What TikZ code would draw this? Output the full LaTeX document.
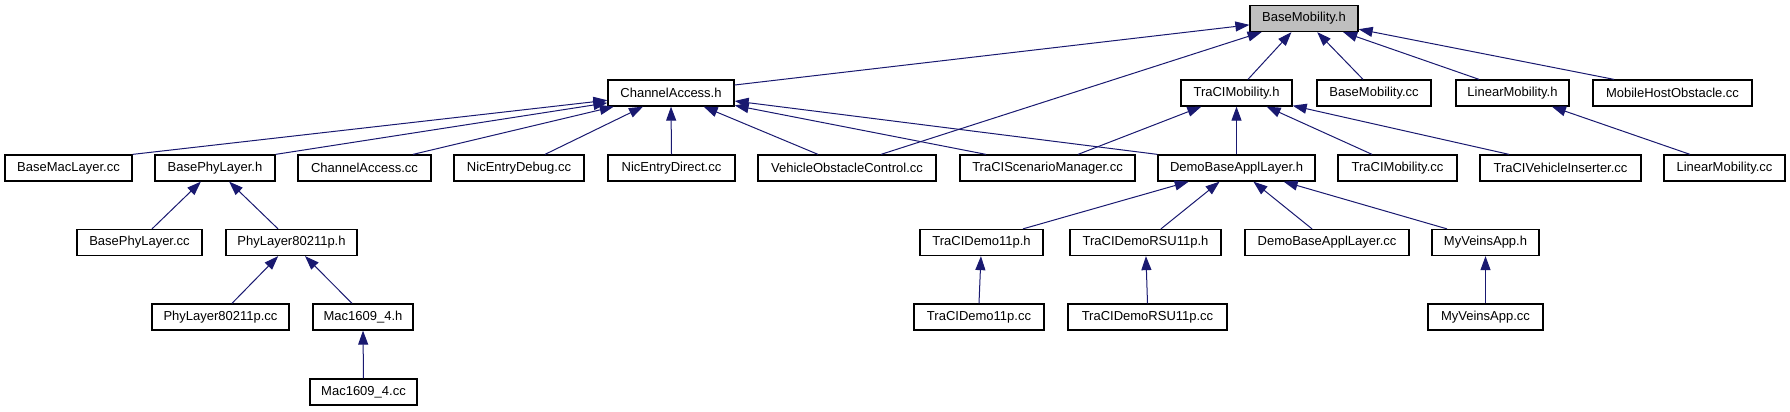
\documentclass[tikz,border=0pt]{standalone}
\usepackage{fontspec}
\setmainfont{Liberation Sans}
\usetikzlibrary{arrows.meta}
\definecolor{midnight}{HTML}{191970}

\begin{document}
\begin{tikzpicture}[x=0.75pt, y=-0.75pt, line width=0.75pt, font=\fontsize{9.75}{11}\selectfont, >={Triangle[length=10.5pt, width=7.5pt]}]

	% Stili per i file e per le inclusioni
	\tikzset{
		file/.style={
			draw=black,
			line width=0.95pt,
			fill=white,
			inner sep=0pt,
			minimum height=19.5pt,
			minimum width=#1*0.75pt
		},
		root/.style={
			file=#1,
			fill=black!25
		},
		incl/.style={
			draw=midnight,
			line width=0.75pt,
			->
		}
	}

	\useasboundingbox (0,0) rectangle (1790,411);

	% Livello 0: l'header di partenza
	\node[root=108] (bmh) at (1304,18.5) {BaseMobility.h};

	% Livello 1
	\node[file=126] (cah)   at (671,93)    {ChannelAccess.h};
	\node[file=111] (tmh)   at (1236.5,93) {TraCIMobility.h};
	\node[file=114] (bmcc)  at (1374,93)   {BaseMobility.cc};
	\node[file=113] (lmh)   at (1512.5,93) {LinearMobility.h};
	\node[file=159] (mhocc) at (1672.5,93) {MobileHostObstacle.cc};

	% Livello 2
	\node[file=127] (bmlcc) at (68.5,168)   {BaseMacLayer.cc};
	\node[file=120] (bplh)  at (215,168)    {BasePhyLayer.h};
	\node[file=133] (cacc)  at (364.5,168)  {ChannelAccess.cc};
	\node[file=130] (nedbg) at (519,168)    {NicEntryDebug.cc};
	\node[file=127] (nedir) at (671.5,168)  {NicEntryDirect.cc};
	\node[file=178] (vocc)  at (847,168)    {VehicleObstacleControl.cc};
	\node[file=175] (tsmcc) at (1047.5,168) {TraCIScenarioManager.cc};
	\node[file=157] (dbalh) at (1236.5,168) {DemoBaseApplLayer.h};
	\node[file=119] (tmcc)  at (1397.5,168) {TraCIMobility.cc};
	\node[file=161] (tvicc) at (1560.5,168) {TraCIVehicleInserter.cc};
	\node[file=121] (lmcc)  at (1724.5,168) {LinearMobility.cc};

	% Livello 3
	\node[file=125] (bplcc)  at (139.5,242.5)  {BasePhyLayer.cc};
	\node[file=131] (pl80h)  at (291.5,242.5)  {PhyLayer80211p.h};
	\node[file=123] (td11h)  at (981.5,242.5)  {TraCIDemo11p.h};
	\node[file=151] (tdrsuh) at (1145.5,242.5) {TraCIDemoRSU11p.h};
	\node[file=164] (dbalcc) at (1327,242.5)   {DemoBaseApplLayer.cc};
	\node[file=107] (mvah)   at (1485.5,242.5) {MyVeinsApp.h};

	% Livello 4
	\node[file=137] (pl80cc)  at (220.5,317)  {PhyLayer80211p.cc};
	\node[file=100] (mach)    at (363,317)    {Mac1609\_4.h};
	\node[file=130] (td11cc)  at (979,317)    {TraCIDemo11p.cc};
	\node[file=159] (tdrsucc) at (1147.5,317) {TraCIDemoRSU11p.cc};
	\node[file=115] (mvacc)   at (1485.5,317) {MyVeinsApp.cc};

	% Livello 5
	\node[file=107] (maccc) at (363.5,392) {Mac1609\_4.cc};

	% Inclusioni di BaseMobility.h
	\draw[incl] ([yshift=6pt]cah.east) -- (bmh);
	\draw[incl] ([xshift=25.5pt]vocc.north) -- (bmh);
	\draw[incl] ([xshift=8.6pt]tmh.north) -- (bmh);
	\draw[incl] ([xshift=-8.25pt]bmcc.north) -- (bmh);
	\draw[incl] ([xshift=-25.1pt]lmh.north) -- (bmh);
	\draw[incl] ([xshift=-43.9pt]mhocc.north) -- (bmh);

	% Inclusioni di ChannelAccess.h
	\draw[incl] (bmlcc.north east) -- (cah);
	\draw[incl] (bplh.north east) -- (cah);
	\draw[incl] ([xshift=36.4pt]cacc.north) -- (cah);
	\draw[incl] ([xshift=19.5pt]nedbg.north) -- (cah);
	\draw[incl] (nedir.north) -- (cah.south);
	\draw[incl] ([xshift=-21.75pt]vocc.north) -- (cah);
	\draw[incl] ([xshift=-46.1pt]tsmcc.north) -- (cah);
	\draw[incl] (dbalh.north west) -- (cah);

	% Inclusioni di TraCIMobility.h e LinearMobility.h
	\draw[incl] ([xshift=22.9pt]tsmcc.north) -- (tmh);
	\draw[incl] (dbalh.north) -- (tmh.south);
	\draw[incl] ([xshift=-19.1pt]tmcc.north) -- (tmh);
	\draw[incl] ([xshift=-38.6pt]tvicc.north) -- (tmh);
	\draw[incl] ([xshift=-25.9pt]lmcc.north) -- (lmh);

	% Inclusioni di DemoBaseApplLayer.h
	\draw[incl] ([xshift=31.1pt]td11h.north) -- (dbalh);
	\draw[incl] ([xshift=11.6pt]tdrsuh.north) -- (dbalh);
	\draw[incl] ([xshift=-11.25pt]dbalcc.north) -- (dbalh);
	\draw[incl] ([xshift=-28.9pt]mvah.north) -- (dbalh);

	% Ramo del livello fisico
	\draw[incl] ([xshift=9.4pt]bplcc.north) -- (bplh);
	\draw[incl] ([xshift=-10.1pt]pl80h.north) -- (bplh);
	\draw[incl] ([xshift=8.6pt]pl80cc.north) -- (pl80h);
	\draw[incl] ([xshift=-8.25pt]mach.north) -- (pl80h);
	\draw[incl] (maccc.north) -- (mach.south);

	% Sorgenti .cc sotto i rispettivi header
	\draw[incl] (td11cc.north) -- (td11h);
	\draw[incl] (tdrsucc.north) -- (tdrsuh);
	\draw[incl] (mvacc.north) -- (mvah.south);

\end{tikzpicture}
\end{document}
